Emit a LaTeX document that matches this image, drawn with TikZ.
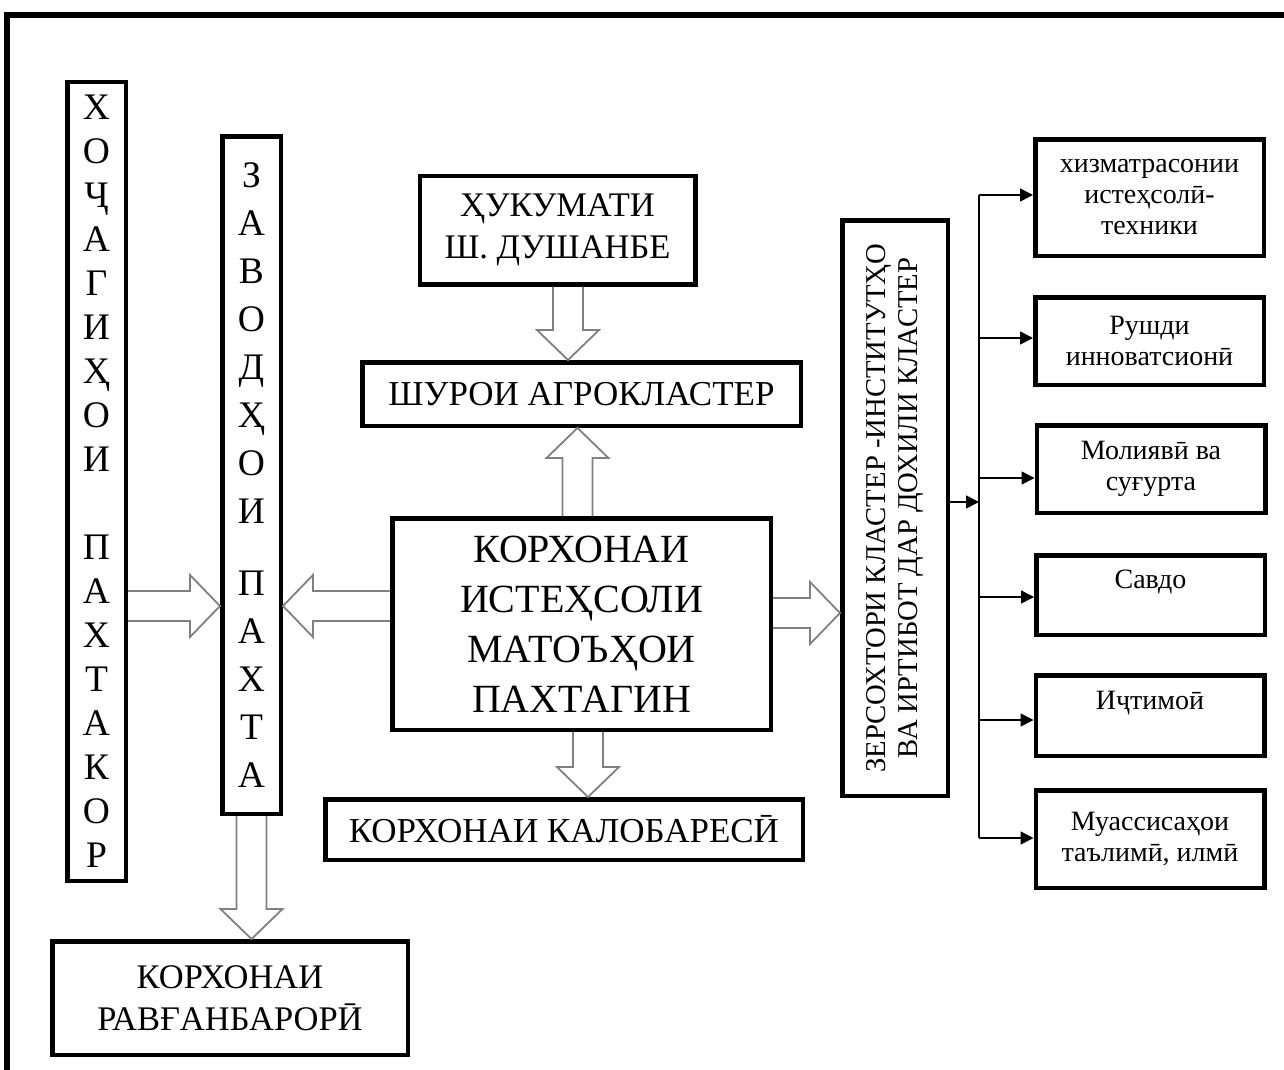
\documentclass[tikz,border=0pt]{standalone}
\usepackage{fontspec}
\setmainfont{Liberation Serif}
\usepackage{graphicx}
\usetikzlibrary{positioning,calc,arrows.meta}

% wide hollow arrow between two points
\newcommand{\fatarrow}[2]{%
    \coordinate (fa1) at (#1);
    \coordinate (fa2) at (#2);
    \coordinate (fab) at ($(fa2)!30pt!(fa1)$);
    \draw[fatline] ($(fa1)!15pt!90:(fa2)$) -- ($(fab)!15pt!90:(fa2)$)
        -- ($(fab)!31pt!90:(fa2)$) -- (fa2) -- ($(fab)!31pt!-90:(fa2)$)
        -- ($(fab)!15pt!-90:(fa2)$) -- ($(fa1)!15pt!-90:(fa2)$);
}

\begin{document}
\begin{tikzpicture}[x=1pt, y=1pt,
    box/.style={draw, line width=4.5pt, inner sep=0pt, align=center},
    side/.style={box, minimum width=228.5pt, font=\fontsize{28}{31}\selectfont},
    fatline/.style={draw=gray, line width=1.8pt, line join=miter},
    feed/.style={line width=1.5pt, -{Triangle[length=13pt, width=13pt]}}]

    \useasboundingbox (0,0) rectangle (1284,-1070);
    \draw[line width=6pt] (7,-1070) |- (1284,-15.5);

    \node[box, minimum width=58.5pt, minimum height=798.5pt, font=\fontsize{37.5}{44}\selectfont] (hoch) at (96.5,-481.5)
        {Х\\О\\Ҷ\\А\\Г\\И\\Ҳ\\О\\И\\[44pt]П\\А\\Х\\Т\\А\\К\\О\\Р};
    \node[box, minimum width=58.5pt, minimum height=677.5pt, font=\fontsize{37.5}{48}\selectfont] (zavod) at (251.5,-475)
        {З\\А\\В\\О\\Д\\Ҳ\\О\\И\\[24pt]П\\А\\Х\\Т\\А};

    \node[box, minimum width=275.5pt, minimum height=108.5pt, font=\fontsize{34.5}{42}\selectfont] (huk) at (557.5,-230)
        {ҲУКУМАТИ\\Ш. ДУШАНБЕ};
    \node[box, minimum width=438.5pt, minimum height=63.5pt, font=\fontsize{35}{38}\selectfont] (shuro) at (581.5,-394)
        {ШУРОИ АГРОКЛАСТЕР};
    \node[box, minimum width=378.5pt, minimum height=211.5pt, font=\fontsize{40}{50}\selectfont] (korxona) at (581.5,-624)
        {КОРХОНАИ\\ИСТЕҲСОЛИ\\МАТОЪҲОИ\\ПАХТАГИН};
    \node[box, minimum width=477.5pt, minimum height=60.5pt, font=\fontsize{35}{38}\selectfont] (kalo) at (564,-829.5)
        {КОРХОНАИ КАЛОБАРЕСӢ};
    \node[box, minimum width=355.5pt, minimum height=113.5pt, font=\fontsize{34.5}{42}\selectfont] (ravgan) at (230,-998)
        {КОРХОНАИ\\РАВҒАНБАРОРӢ};

    \node[box, minimum width=105.5pt, minimum height=575.5pt, font=\fontsize{28.7}{32}\selectfont] (zers) at (895,-508)
        {\rotatebox{90}{\begin{tabular}{@{}c@{}}ЗЕРСОХТОРИ КЛАСТЕР -ИНСТИТУТҲО\\ВА ИРТИБОТ ДАР ДОХИЛИ КЛАСТЕР\end{tabular}}};

    \node[side, minimum height=116.5pt] (serv) at (1149.5,-197.5) {хизматрасонии\\истеҳсолӣ-\\техники};
    \node[side, minimum height=87.5pt] (innov) at (1149.5,-341) {Рушди\\инноватсионӣ};
    \node[side, minimum height=87.5pt] (fin) at (1151,-469) {Молиявӣ ва\\суғурта};
    \node[side, minimum height=79.5pt] (trade) at (1150.5,-595) {Савдо\\\mbox{}};
    \node[side, minimum height=80.5pt] (social) at (1150,-715.5) {Иҷтимоӣ\\\mbox{}};
    \node[side, minimum height=97.5pt] (edu) at (1150,-839) {Муассисаҳои\\таълимӣ, илмӣ};

    % distribution line on the right
    \coordinate (j1) at (979,-195);
    \coordinate (j2) at (979,-338);
    \coordinate (j3) at (979,-478);
    \coordinate (jz) at (979,-502);
    \coordinate (j4) at (979,-597);
    \coordinate (j5) at (979,-720);
    \coordinate (j6) at (979,-838);

    \draw[line width=1.5pt] (j1) -- (j6);
    \path[feed]
    (zers.east |- jz) edge (jz)
    (j1) edge (j1 -| serv.west)
    (j2) edge (j2 -| innov.west)
    (j3) edge (j3 -| fin.west)
    (j4) edge (j4 -| trade.west)
    (j5) edge (j5 -| social.west)
    (j6) edge (j6 -| edu.west);

    % hollow arrows
    \coordinate (lvl) at (0,-606);
    \coordinate (lvr) at (0,-613);
    \coordinate (cup) at (577.5,0);
    \coordinate (cdn) at (568,0);
    \coordinate (ckl) at (588,0);
    \fatarrow{hoch.east |- lvl}{zavod.west |- lvl}
    \fatarrow{korxona.west |- lvl}{zavod.east |- lvl}
    \fatarrow{korxona.east |- lvr}{zers.west |- lvr}
    \fatarrow{korxona.north -| cup}{shuro.south -| cup}
    \fatarrow{huk.south -| cdn}{shuro.north -| cdn}
    \fatarrow{korxona.south -| ckl}{kalo.north -| ckl}
    \fatarrow{zavod.south}{ravgan.north -| zavod.south}
\end{tikzpicture}
\end{document}
